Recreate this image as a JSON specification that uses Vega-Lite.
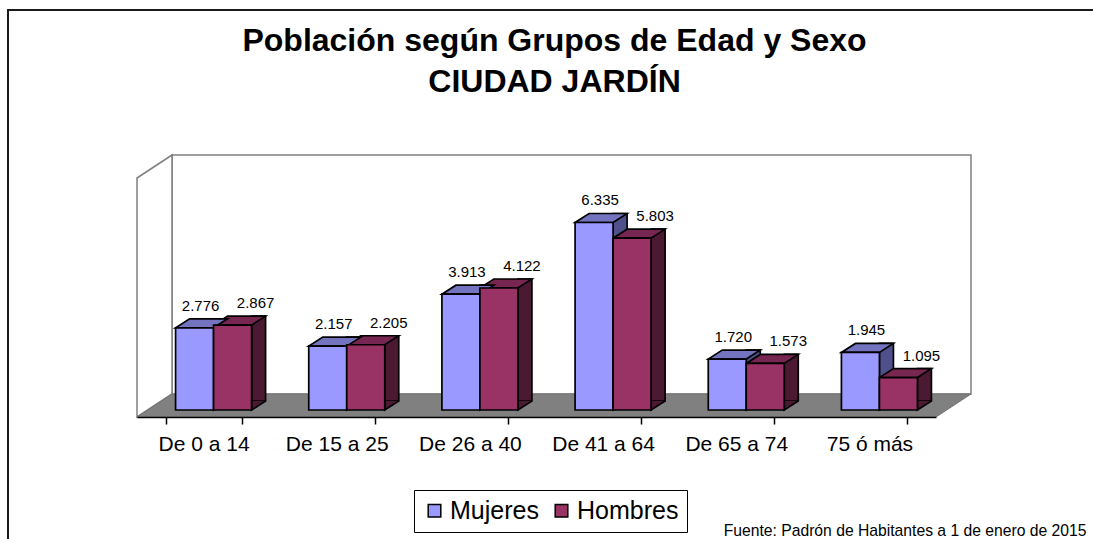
{
  "$schema": "https://vega.github.io/schema/vega-lite/v6.json",
  "width": 799,
  "height": 239,
  "autosize": "none",
  "padding": {"left": 137, "top": 178, "right": 157, "bottom": 122},
  "background": "white",
  "config": {
    "view": {"stroke": null},
    "font": "Liberation Sans",
    "locale": {"number": {"decimal": ",", "thousands": ".", "grouping": [3], "currency": ["", " €"]}}
  },
  "title": {
    "text": ["Población según Grupos de Edad y Sexo", "CIUDAD JARDÍN"],
    "font": "Liberation Sans",
    "fontSize": 32,
    "fontWeight": "bold",
    "color": "black",
    "anchor": "middle",
    "frame": "group",
    "dx": 18,
    "baseline": "bottom",
    "lineHeight": 41,
    "offset": -122
  },
  "layer": [
    {
      "data": {"values": [{}]},
      "mark": {"type": "rect", "filled": false, "stroke": "#1a1a1a", "strokeWidth": 2},
      "encoding": {"x": {"value": -129}, "x2": {"value": 1000}, "y": {"value": -168}, "y2": {"value": 420}}
    },
    {
      "data": {"values": [{}]},
      "mark": {"type": "rect", "fill": "white", "stroke": "#808080", "strokeWidth": 1.5},
      "encoding": {"x": {"value": 35}, "x2": {"value": 834}, "y": {"value": -23}, "y2": {"value": 216}}
    },
    {
      "data": {"values": [{}]},
      "mark": {"type": "point", "shape": "M0,0L35,-23L35,216L0,239Z", "size": 4, "filled": true, "opacity": 1, "fill": "white", "stroke": "#808080", "strokeWidth": 1.5},
      "encoding": {"x": {"value": 0}, "y": {"value": 0}}
    },
    {
      "data": {"values": [{}]},
      "mark": {"type": "point", "shape": "M0,239L799,239L834,216L35,216Z", "size": 4, "filled": true, "opacity": 1, "fill": "#808080", "stroke": "#737373", "strokeWidth": 1},
      "encoding": {"x": {"value": 0}, "y": {"value": 0}}
    },
    {
      "data": {
        "values": [
          {"grupo": "De 0 a 14", "sexo": "Mujeres", "valor": 2776},
          {"grupo": "De 0 a 14", "sexo": "Hombres", "valor": 2867},
          {"grupo": "De 15 a 25", "sexo": "Mujeres", "valor": 2157},
          {"grupo": "De 15 a 25", "sexo": "Hombres", "valor": 2205},
          {"grupo": "De 26 a 40", "sexo": "Mujeres", "valor": 3913},
          {"grupo": "De 26 a 40", "sexo": "Hombres", "valor": 4122},
          {"grupo": "De 41 a 64", "sexo": "Mujeres", "valor": 6335},
          {"grupo": "De 41 a 64", "sexo": "Hombres", "valor": 5803},
          {"grupo": "De 65 a 74", "sexo": "Mujeres", "valor": 1720},
          {"grupo": "De 65 a 74", "sexo": "Hombres", "valor": 1573},
          {"grupo": "75 ó más", "sexo": "Mujeres", "valor": 1945},
          {"grupo": "75 ó más", "sexo": "Hombres", "valor": 1095}
        ]
      },
      "encoding": {
        "x": {
          "field": "grupo",
          "type": "nominal",
          "sort": null,
          "scale": {"paddingInner": 0.4293, "paddingOuter": 0.2146},
          "axis": {
            "title": "Fuente: Padrón de Habitantes a 1 de enero de 2015",
            "titleFontSize": 15.7,
            "titleFontWeight": "normal",
            "titleColor": "black",
            "titleAlign": "right",
            "titleAnchor": null,
            "titleX": 949,
            "titleY": 118,
            "titleBaseline": "alphabetic",
            "labelFontSize": 21,
            "labelColor": "black",
            "labelAngle": 0,
            "labelPadding": 9,
            "tickSize": 7,
            "tickColor": "black",
            "tickWidth": 1.5,
            "domainColor": "black",
            "domainWidth": 1.5,
            "tickBand": "extent",
            "zindex": 1
          }
        },
        "y": {
          "field": "valor",
          "type": "quantitative",
          "scale": {"domain": [0, 8074]},
          "axis": null
        }
      },
      "layer": [
        {
          "transform": [{"filter": "datum.sexo === 'Mujeres'"}],
          "mark": {"type": "bar", "width": 14, "xOffset": 17, "yOffset": -16, "y2Offset": -16, "fill": "#50508C", "stroke": "black", "strokeWidth": 1.7},
          "encoding": {"y2": {"datum": 0}}
        },
        {
          "transform": [{"filter": "datum.sexo === 'Hombres'"}],
          "mark": {"type": "bar", "width": 14, "xOffset": 55, "yOffset": -16, "y2Offset": -16, "fill": "#4C1933", "stroke": "black", "strokeWidth": 1.7},
          "encoding": {"y2": {"datum": 0}}
        },
        {
          "transform": [{"filter": "datum.sexo === 'Mujeres'"}],
          "mark": {"type": "point", "shape": "M33,-9L19,0L19,-9", "size": 4, "filled": true, "opacity": 1, "xOffset": -9, "yOffset": -7, "fill": "#50508C", "stroke": "black", "strokeWidth": 1.7},
          "encoding": {"y": {"datum": 0, "type": "quantitative"}}
        },
        {
          "transform": [{"filter": "datum.sexo === 'Hombres'"}],
          "mark": {"type": "point", "shape": "M33,-9L19,0L19,-9", "size": 4, "filled": true, "opacity": 1, "xOffset": 29, "yOffset": -7, "fill": "#4C1933", "stroke": "black", "strokeWidth": 1.7},
          "encoding": {"y": {"datum": 0, "type": "quantitative"}}
        },
        {
          "transform": [{"filter": "datum.sexo === 'Hombres'"}],
          "mark": {"type": "point", "shape": "M-19,0L19,0L33,-9L-5,-9Z", "size": 4, "filled": true, "opacity": 1, "xOffset": 29, "yOffset": -7, "fill": "#772652", "stroke": "black", "strokeWidth": 1.7}
        },
        {
          "transform": [{"filter": "datum.sexo === 'Mujeres'"}],
          "mark": {"type": "point", "shape": "M-19,0L19,0L33,-9L-5,-9Z", "size": 4, "filled": true, "opacity": 1, "xOffset": -9, "yOffset": -7, "fill": "#7373BF", "stroke": "black", "strokeWidth": 1.7}
        },
        {
          "transform": [{"filter": "datum.sexo === 'Mujeres'"}],
          "mark": {"type": "bar", "width": 38, "xOffset": -9, "yOffset": -7, "y2Offset": -7, "stroke": "black", "strokeWidth": 1.7},
          "encoding": {
            "color": {
              "field": "sexo",
              "type": "nominal",
              "scale": {"domain": ["Mujeres", "Hombres"], "range": ["#9999FF", "#993366"]},
              "legend": {
                "title": null,
                "orient": "none",
                "legendX": 277,
                "legendY": 312,
                "direction": "horizontal",
                "strokeColor": "black",
                "fillColor": "white",
                "padding": 8,
                "symbolType": "square",
                "symbolSize": 159,
                "symbolStrokeColor": "black",
                "symbolStrokeWidth": 1.5,
                "symbolOpacity": 1,
                "labelFontSize": 25,
                "labelFont": "Liberation Sans",
                "labelColor": "black",
                "labelOffset": 3,
                "columnPadding": 10
              }
            }
          }
        },
        {
          "transform": [{"filter": "datum.sexo === 'Hombres'"}],
          "mark": {"type": "bar", "width": 38, "xOffset": 29, "yOffset": -7, "y2Offset": -7, "stroke": "black", "strokeWidth": 1.7},
          "encoding": {
            "color": {"field": "sexo", "type": "nominal", "scale": {"domain": ["Mujeres", "Hombres"], "range": ["#9999FF", "#993366"]}}
          }
        },
        {
          "transform": [{"filter": "datum.sexo === 'Mujeres'"}],
          "mark": {"type": "text", "xOffset": -3, "yOffset": -24, "baseline": "alphabetic", "fontSize": 15, "color": "black"},
          "encoding": {"text": {"field": "valor", "type": "quantitative", "format": ","}}
        },
        {
          "transform": [{"filter": "datum.sexo === 'Hombres'"}],
          "mark": {"type": "text", "xOffset": 52, "yOffset": -24, "baseline": "alphabetic", "fontSize": 15, "color": "black"},
          "encoding": {"text": {"field": "valor", "type": "quantitative", "format": ","}}
        }
      ]
    }
  ]
}
